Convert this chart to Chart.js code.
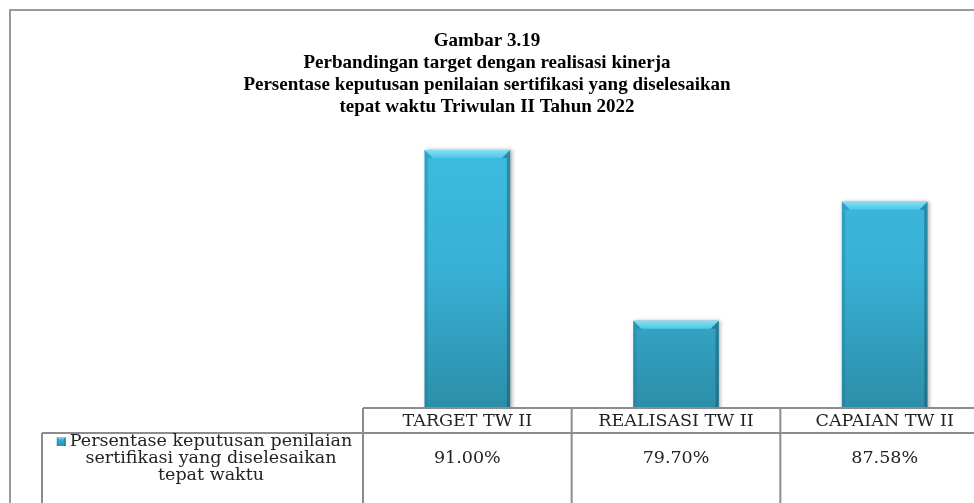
<!DOCTYPE html>
<html>
<head>
<meta charset="utf-8">
<script src="https://cdn.jsdelivr.net/npm/chart.js@4.4.1/dist/chart.umd.min.js"></script>
<style>
    html, body { margin: 0; padding: 0; background: #fff; overflow: hidden; }
    .chart__wrap { position: relative; width: 1000px; height: 540px; }
</style>
</head>
<body>
<div class="chart__wrap"><canvas id="chartBar" width="1000" height="540"></canvas></div>
<script>
const titleLines = [
    'Gambar 3.19',
    'Perbandingan target dengan realisasi kinerja',
    'Persentase keputusan penilaian sertifikasi yang diselesaikan',
    'tepat waktu Triwulan II Tahun 2022'
];
const categories = ['TARGET TW II', 'REALISASI TW II', 'CAPAIAN TW II'];
const seriesName = 'Persentase keputusan penilaian sertifikasi yang diselesaikan tepat waktu';
const seriesLines = ['Persentase keputusan penilaian', 'sertifikasi yang diselesaikan', 'tepat waktu'];
const values = [91.00, 79.70, 87.58];
const valueLabels = values.map(v => v.toFixed(2) + '%');
const yMin = 74;
const yMax = 92;

const lineColor = '#8c8c8c';
const tableFont = '17.5px "DejaVu Serif"';

// vertical gradient for the bar body
function barFill(context) {
    const area = context.chart.chartArea;
    if (!area) return '#36a9cc';
    const g = context.chart.ctx.createLinearGradient(0, area.top, 0, area.bottom);
    g.addColorStop(0, '#3dbde1');
    g.addColorStop(0.5, '#38b0d5');
    g.addColorStop(1, '#2c8fa9');
    return g;
}

// top bevel + darker side edges on each bar
function drawBevel(ctx, left, right, top, bottom, b) {
    let g = ctx.createLinearGradient(0, top, 0, top + b);
    g.addColorStop(0, '#84def3');
    g.addColorStop(1, '#4cc7e7');
    ctx.fillStyle = g;
    ctx.beginPath();
    ctx.moveTo(left, top);
    ctx.lineTo(right, top);
    ctx.lineTo(right - b, top + b);
    ctx.lineTo(left + b, top + b);
    ctx.closePath();
    ctx.fill();

    const s = Math.max(1.5, b * 0.4);
    ctx.fillStyle = 'rgba(30, 120, 150, 0.35)';
    ctx.beginPath();
    ctx.moveTo(left, top);
    ctx.lineTo(left + b, top + b);
    ctx.lineTo(left + s, top + b);
    ctx.lineTo(left + s, bottom);
    ctx.lineTo(left, bottom);
    ctx.closePath();
    ctx.fill();

    ctx.fillStyle = 'rgba(20, 80, 100, 0.45)';
    ctx.beginPath();
    ctx.moveTo(right, top);
    ctx.lineTo(right - b, top + b);
    ctx.lineTo(right - s, top + b);
    ctx.lineTo(right - s, bottom);
    ctx.lineTo(right, bottom);
    ctx.closePath();
    ctx.fill();
}

const barShadow = {
    id: 'barShadow',
    beforeDatasetsDraw(chart) {
        const ctx = chart.ctx;
        ctx.save();
        ctx.shadowColor = 'rgba(0, 0, 0, 0.35)';
        ctx.shadowBlur = 4;
        ctx.shadowOffsetX = 1.5;
        ctx.shadowOffsetY = 0;
    },
    afterDatasetsDraw(chart) {
        const ctx = chart.ctx;
        ctx.restore();
        const bottom = chart.chartArea.bottom;
        chart.getDatasetMeta(0).data.forEach(bar => {
            const p = bar.getProps(['x', 'y', 'base', 'width'], true);
            drawBevel(ctx, p.x - p.width / 2, p.x + p.width / 2, p.y, Math.min(p.base, bottom), 8);
        });
    }
};

// title, outer frame and the data table under the bars
const chartDecor = {
    id: 'chartDecor',
    afterDraw(chart) {
        const ctx = chart.ctx;
        const area = chart.chartArea;
        const xs = chart.scales.x;
        const colW = xs.width / categories.length;
        const H = chart.height;
        const headTop = area.bottom + 1;
        const headBottom = headTop + 25;
        const legendLeft = 42;

        ctx.save();

        // title
        ctx.fillStyle = '#000';
        ctx.font = 'bold 19px "Liberation Serif"';
        ctx.textAlign = 'center';
        ctx.textBaseline = 'middle';
        titleLines.forEach((t, i) => ctx.fillText(t, 487, 41 + i * 22));

        // outer frame
        ctx.strokeStyle = '#9a9a9a';
        ctx.lineWidth = 2;
        ctx.beginPath();
        ctx.moveTo(10, H);
        ctx.lineTo(10, 10);
        ctx.lineTo(chart.width, 10);
        ctx.stroke();

        // table grid
        ctx.strokeStyle = lineColor;
        ctx.lineWidth = 2;
        ctx.beginPath();
        ctx.moveTo(area.left, headTop);
        ctx.lineTo(chart.width, headTop);
        ctx.moveTo(legendLeft, headBottom);
        ctx.lineTo(chart.width, headBottom);
        ctx.moveTo(legendLeft, headBottom);
        ctx.lineTo(legendLeft, H);
        for (let i = 0; i <= categories.length; i++) {
            const x = area.left + i * colW;
            ctx.moveTo(x, headTop);
            ctx.lineTo(x, H);
        }
        ctx.stroke();

        // header and value cells
        ctx.fillStyle = '#222';
        ctx.font = tableFont;
        categories.forEach((c, i) => {
            const cx = xs.getPixelForTick(i);
            ctx.fillText(c, cx, (headTop + headBottom) / 2 + 1);
            ctx.fillText(valueLabels[i], cx, headBottom + 25);
        });

        // legend cell
        const lx = 211;
        seriesLines.forEach((t, i) => ctx.fillText(t, lx, headBottom + 8 + i * 17));
        const w0 = ctx.measureText(seriesLines[0]).width;
        const mx = lx - w0 / 2 - 13;
        const my = headBottom + 4;
        const g = ctx.createLinearGradient(0, my, 0, my + 9);
        g.addColorStop(0, '#3dbde1');
        g.addColorStop(1, '#2c8fa9');
        ctx.fillStyle = g;
        ctx.fillRect(mx, my, 9, 9);
        drawBevel(ctx, mx, mx + 9, my, my + 9, 2.5);

        ctx.restore();
    }
};

new Chart(document.getElementById('chartBar'), {
    type: 'bar',
    data: {
        labels: categories,
        datasets: [{
            label: seriesName,
            data: values,
            backgroundColor: barFill,
            borderWidth: 0,
            categoryPercentage: 1,
            barPercentage: 0.41
        }]
    },
    options: {
        responsive: false,
        animation: false,
        layout: {
            padding: { left: 363, right: 11, top: 135, bottom: 133 }
        },
        plugins: {
            legend: { display: false },
            title: { display: false },
            tooltip: { enabled: false }
        },
        scales: {
            x: { display: false, offset: true, grid: { display: false } },
            y: { display: false, min: yMin, max: yMax }
        }
    },
    plugins: [barShadow, chartDecor]
});
</script>
</body>
</html>
